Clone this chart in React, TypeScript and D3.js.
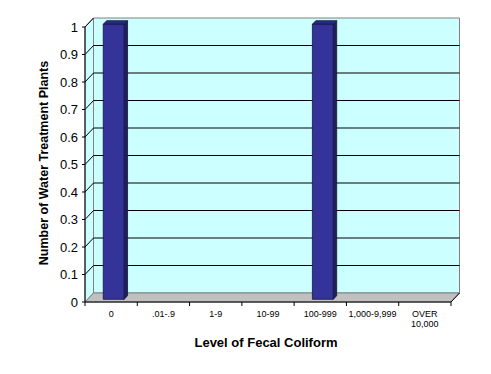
import React from 'react'
import * as d3 from 'd3'

const categories = ['0', '.01-.9', '1-9', '10-99', '100-999', '1,000-9,999', 'OVER\n10,000']
const plantCounts = [1, 0, 0, 0, 1, 0, 0]
const yTicks = [0, 0.1, 0.2, 0.3, 0.4, 0.5, 0.6, 0.7, 0.8, 0.9, 1]
const yTickLabels = ['0', '0.1', '0.2', '0.3', '0.4', '0.5', '0.6', '0.7', '0.8', '0.9', '1']

const width = 491
const height = 374
const left = 85
const right = 451
const bottom = 302
const top = 27
// depth offset of the back wall
const depthX = 8.5
const depthY = -9

const font = 'Arial, "Liberation Sans", sans-serif'

export default function App () {
  const xScale = d3.scaleBand<string>()
    .domain(categories)
    .range([left, right])
    .paddingInner(0.6)
    .paddingOuter(0.3)
  const bandScale = d3.scaleBand<string>().domain(categories).range([left, right])
  const yScale = d3.scaleLinear().domain([0, 1]).range([bottom, top])

  const p = (x: number, y: number, d: number) => [x + d * depthX, y + d * depthY]
  const poly = (pts: number[][]) => pts.map(q => q.join(',')).join(' ')

  const d0 = 0.3
  const d1 = 0.7

  return (
    <svg width={width} height={height} style={{ position: 'absolute', left: 0, top: 0, background: '#fff' }}>
      {/* side wall */}
      <polygon
        points={poly([p(left, yScale(0), 0), p(left, yScale(1), 0), p(left, yScale(1), 1), p(left, yScale(0), 1)])}
        fill='#ccffff' stroke='#808080' strokeWidth={1}
      />
      {/* back wall */}
      <polygon
        points={poly([p(left, yScale(0), 1), p(left, yScale(1), 1), p(right, yScale(1), 1), p(right, yScale(0), 1)])}
        fill='#ccffff' stroke='#808080' strokeWidth={1}
      />
      {/* gridlines */}
      {yTicks.filter(v => v > 0 && v < 1).map((v, i) => {
        const a = p(left, yScale(v), 0)
        const b = p(left, yScale(v), 1)
        const c = p(right, yScale(v), 1)
        return <polyline key={i} points={poly([a, b, c])} fill='none' stroke='#000' strokeWidth={1} />
      })}
      <line x1={left} y1={yScale(1)} x2={left + depthX} y2={yScale(1) + depthY} stroke='#000' />
      {/* floor */}
      <polygon
        points={poly([p(left, yScale(0), 0), p(right, yScale(0), 0), p(right, yScale(0), 1), p(left, yScale(0), 1)])}
        fill='#c0c0c0' stroke='#808080' strokeWidth={1}
      />
      {/* bars */}
      {plantCounts.map((v, i) => {
        if (v <= 0) return null
        const x0 = xScale(categories[i])!
        const x1 = x0 + xScale.bandwidth()
        const yb = yScale(0)
        const yt = yScale(v)
        const front = [p(x0, yt, d0), p(x1, yt, d0), p(x1, yb, d0), p(x0, yb, d0)]
        const side = [p(x1, yt, d0), p(x1, yt, d1), p(x1, yb, d1), p(x1, yb, d0)]
        const topFace = [p(x0, yt, d0), p(x0, yt, d1), p(x1, yt, d1), p(x1, yt, d0)]
        return (
          <g key={i} stroke='#141440' strokeWidth={0.8} strokeLinejoin='round'>
            <polygon points={poly(side)} fill='#1f1f5c' />
            <polygon points={poly(topFace)} fill='#2a2a80' />
            <polygon points={poly(front)} fill='#333399' />
          </g>
        )
      })}
      {/* y axis */}
      <line x1={left} y1={yScale(0)} x2={left} y2={yScale(1)} stroke='#000' />
      {yTicks.map((v, i) => (
        <g key={i} transform={`translate(${left},${yScale(v)})`}>
          <line x1={-3} y1={0} x2={0} y2={0} stroke='#000' />
          <text x={-7} dy='0.36em' textAnchor='end' fontFamily={font} fontSize={13} fill='#000'>{yTickLabels[i]}</text>
        </g>
      ))}
      {/* x axis */}
      <line x1={left} y1={yScale(0)} x2={right} y2={yScale(0)} stroke='#000' />
      <line x1={right} y1={yScale(0)} x2={right + depthX} y2={yScale(0) + depthY} stroke='#000' />
      {categories.map((c, i) => (
        <line key={'t' + i} x1={bandScale(c)!} y1={yScale(0)} x2={bandScale(c)!} y2={yScale(0) + 4} stroke='#000' />
      ))}
      <line x1={right} y1={yScale(0)} x2={right} y2={yScale(0) + 4} stroke='#000' />
      {categories.map((c, i) => {
        const cx = bandScale(c)! + bandScale.bandwidth() / 2
        return (
          <text key={'l' + i} x={cx} y={316.5} textAnchor='middle' fontFamily={font} fontSize={9} fill='#000'>
            {c.split('\n').map((s, j) => <tspan key={j} x={cx} dy={j === 0 ? 0 : 10.5}>{s}</tspan>)}
          </text>
        )
      })}
      {/* titles */}
      <text x={266} y={347} textAnchor='middle' fontFamily={font} fontSize={13} fontWeight='bold' fill='#000'>
        Level of Fecal Coliform
      </text>
      <text transform='translate(48,163) rotate(-90)' textAnchor='middle' fontFamily={font} fontSize={12.5} fontWeight='bold' fill='#000'>
        Number of Water Treatment Plants
      </text>
    </svg>
  )
}
